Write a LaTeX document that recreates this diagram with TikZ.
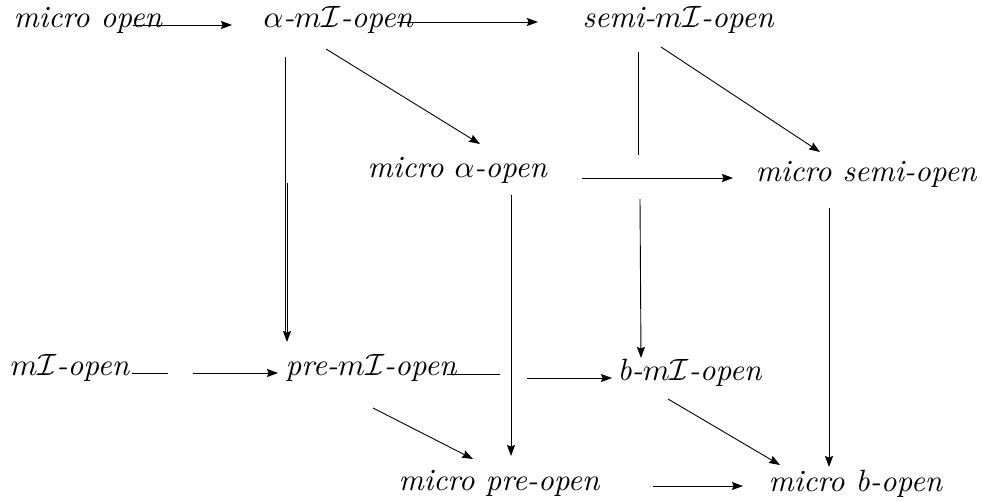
\documentclass[tikz,border=0pt]{standalone}
\usetikzlibrary{arrows.meta}
\begin{document}
\begin{tikzpicture}[x=1pt,y=-1pt,
  lbl/.style={anchor=base west,inner sep=0pt,font=\normalsize\itshape,scale=3.08,transform shape},
  con/.style={line width=0.9pt},
  arr/.style={line width=0.9pt,-{Stealth[length=11pt,width=8pt,inset=1.5pt]}}]
\useasboundingbox (0,0) rectangle (982,502);
\node[lbl] (mo) at (13,28) {micro open};
\node[lbl] (aI) at (263,28) {$\alpha$-$m\mathcal{I}$-open};
\node[lbl] (sI) at (582,28) {semi-$m\mathcal{I}$-open};
\node[lbl] (ma) at (367,178) {micro $\alpha$-open};
\node[lbl] (ms) at (755,182) {micro semi-open};
\node[lbl] (mI) at (10,375) {$m\mathcal{I}$-open};
\node[lbl] (pI) at (285,375) {pre-$m\mathcal{I}$-open};
\node[lbl] (bI) at (617,381) {b-$m\mathcal{I}$-open};
\node[lbl] (mp) at (398,490) {micro pre-open};
\node[lbl] (mb) at (768,491) {micro b-open};
% top row
\draw[arr] ([shift={(120,-3)}]mo.base west) -- ([shift={(-31,-3)}]aI.base west);
\draw[arr] ([shift={(134,-6)}]aI.base west) -- ([shift={(-44,-6)}]sI.base west);
% alpha-mI-open down to pre-mI-open
\draw[con] ([shift={(22,29)}]aI.base west) -- ([shift={(0,-37)}]pI.base west);
\draw[arr] ([shift={(24,155)}]aI.base west) -- ([shift={(2,-33)}]pI.base west);
% diagonals
\draw[arr] ([shift={(63,21)}]aI.base west) -- ([shift={(113,-34)}]ma.base west);
\draw[arr] ([shift={(79,19)}]sI.base west) -- ([shift={(65,-30)}]ms.base west);
% semi-mI-open down to b-mI-open (broken)
\draw[con] ([shift={(56,24)}]sI.base west) -- ([shift={(21,-226)}]bI.base west);
\draw[arr] ([shift={(58,171)}]sI.base west) -- ([shift={(24,-23)}]bI.base west);
% middle row
\draw[arr] ([shift={(215,0)}]ma.base west) -- ([shift={(-22,-4)}]ms.base west);
\draw[arr] ([shift={(144,17)}]ma.base west) -- ([shift={(113,-34)}]mp.base west);
\draw[arr] ([shift={(74,26)}]ms.base west) -- ([shift={(61,-24)}]mb.base west);
% lower row
\draw[con] ([shift={(122,-2)}]mI.base west) -- ([shift={(158,-2)}]mI.base west);
\draw[arr] ([shift={(183,-2)}]mI.base west) -- ([shift={(-7,-2)}]pI.base west);
\draw[con] ([shift={(162,-1)}]pI.base west) -- ([shift={(215,-1)}]pI.base west);
\draw[arr] ([shift={(242,3)}]pI.base west) -- ([shift={(-5,-3)}]bI.base west);
\draw[arr] ([shift={(88,33)}]pI.base west) -- ([shift={(75,-31)}]mp.base west);
\draw[arr] ([shift={(51,18)}]bI.base west) -- ([shift={(12,-26)}]mb.base west);
\draw[arr] ([shift={(255,-4)}]mp.base west) -- ([shift={(-25,-5)}]mb.base west);
\end{tikzpicture}
\end{document}
